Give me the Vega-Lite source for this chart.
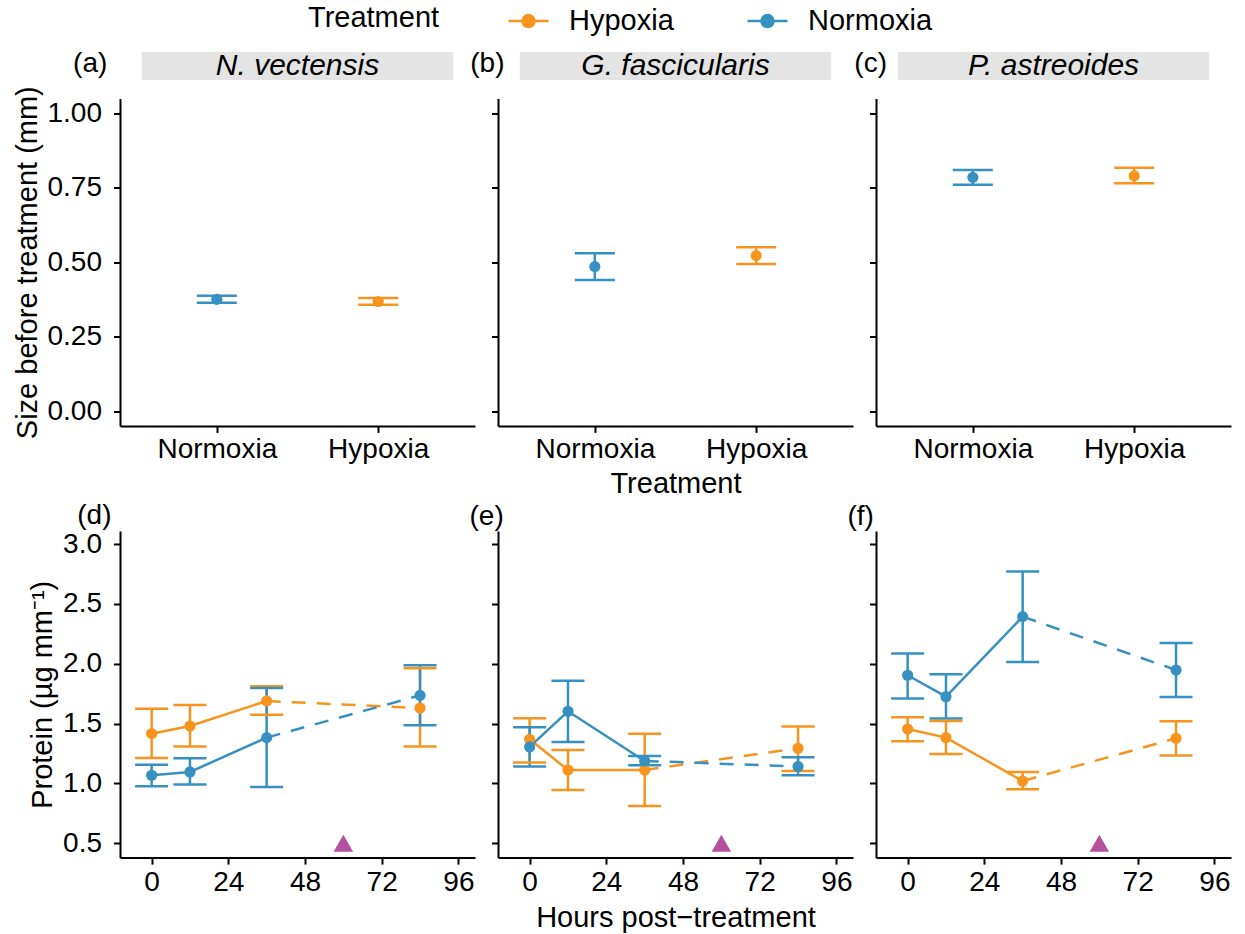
{
  "$schema": "https://vega.github.io/schema/vega-lite/v6.json",
  "padding": {"left": 13, "top": 1, "right": 2, "bottom": 2},
  "columns": 3,
  "align": "each",
  "spacing": {"row": 3.5, "column": -6},
  "resolve": {"scale": {"color": "shared"}},
  "datasets": {
    "strips": [
      {"species": "N. vectensis"},
      {"species": "G. fascicularis"},
      {"species": "P. astreoides"}
    ],
    "size": [
      {"species": "N. vectensis", "treatment": "Hypoxia", "mean": 0.368, "lo": 0.357, "hi": 0.380},
      {"species": "N. vectensis", "treatment": "Normoxia", "mean": 0.375, "lo": 0.364, "hi": 0.387},
      {"species": "G. fascicularis", "treatment": "Hypoxia", "mean": 0.522, "lo": 0.494, "hi": 0.550},
      {"species": "G. fascicularis", "treatment": "Normoxia", "mean": 0.485, "lo": 0.440, "hi": 0.530},
      {"species": "P. astreoides", "treatment": "Hypoxia", "mean": 0.790, "lo": 0.765, "hi": 0.817},
      {"species": "P. astreoides", "treatment": "Normoxia", "mean": 0.785, "lo": 0.760, "hi": 0.810}
    ],
    "protein": [
      {"species": "N. vectensis", "treatment": "Hypoxia", "hours": 0, "mean": 1.416, "lo": 1.213, "hi": 1.625},
      {"species": "N. vectensis", "treatment": "Hypoxia", "hours": 12, "mean": 1.480, "lo": 1.308, "hi": 1.655},
      {"species": "N. vectensis", "treatment": "Hypoxia", "hours": 36, "mean": 1.689, "lo": 1.575, "hi": 1.812},
      {"species": "N. vectensis", "treatment": "Hypoxia", "hours": 84, "mean": 1.630, "lo": 1.308, "hi": 1.962},
      {"species": "G. fascicularis", "treatment": "Hypoxia", "hours": 0, "mean": 1.369, "lo": 1.174, "hi": 1.544},
      {"species": "G. fascicularis", "treatment": "Hypoxia", "hours": 12, "mean": 1.112, "lo": 0.945, "hi": 1.280},
      {"species": "G. fascicularis", "treatment": "Hypoxia", "hours": 36, "mean": 1.112, "lo": 0.812, "hi": 1.416},
      {"species": "G. fascicularis", "treatment": "Hypoxia", "hours": 84, "mean": 1.294, "lo": 1.104, "hi": 1.475},
      {"species": "P. astreoides", "treatment": "Hypoxia", "hours": 0, "mean": 1.455, "lo": 1.352, "hi": 1.553},
      {"species": "P. astreoides", "treatment": "Hypoxia", "hours": 12, "mean": 1.383, "lo": 1.246, "hi": 1.522},
      {"species": "P. astreoides", "treatment": "Hypoxia", "hours": 36, "mean": 1.020, "lo": 0.951, "hi": 1.096},
      {"species": "P. astreoides", "treatment": "Hypoxia", "hours": 84, "mean": 1.377, "lo": 1.233, "hi": 1.519},
      {"species": "N. vectensis", "treatment": "Normoxia", "hours": 0, "mean": 1.068, "lo": 0.976, "hi": 1.157},
      {"species": "N. vectensis", "treatment": "Normoxia", "hours": 12, "mean": 1.096, "lo": 0.990, "hi": 1.210},
      {"species": "N. vectensis", "treatment": "Normoxia", "hours": 36, "mean": 1.383, "lo": 0.970, "hi": 1.797},
      {"species": "N. vectensis", "treatment": "Normoxia", "hours": 84, "mean": 1.736, "lo": 1.486, "hi": 1.987},
      {"species": "G. fascicularis", "treatment": "Normoxia", "hours": 0, "mean": 1.305, "lo": 1.141, "hi": 1.469},
      {"species": "G. fascicularis", "treatment": "Normoxia", "hours": 12, "mean": 1.603, "lo": 1.346, "hi": 1.859},
      {"species": "G. fascicularis", "treatment": "Normoxia", "hours": 36, "mean": 1.188, "lo": 1.152, "hi": 1.229},
      {"species": "G. fascicularis", "treatment": "Normoxia", "hours": 84, "mean": 1.141, "lo": 1.068, "hi": 1.218},
      {"species": "P. astreoides", "treatment": "Normoxia", "hours": 0, "mean": 1.904, "lo": 1.709, "hi": 2.087},
      {"species": "P. astreoides", "treatment": "Normoxia", "hours": 12, "mean": 1.725, "lo": 1.542, "hi": 1.912},
      {"species": "P. astreoides", "treatment": "Normoxia", "hours": 36, "mean": 2.394, "lo": 2.015, "hi": 2.772},
      {"species": "P. astreoides", "treatment": "Normoxia", "hours": 84, "mean": 1.948, "lo": 1.722, "hi": 2.173}
    ],
    "event": [
      {"species": "N. vectensis", "hours": 60, "protein": 0.5},
      {"species": "G. fascicularis", "hours": 60, "protein": 0.5},
      {"species": "P. astreoides", "hours": 60, "protein": 0.5}
    ]
  },
  "concat": [
    {
      "width": 355, "height": 28.1,
      "data": {"name": "strips"},
      "transform": [{"filter": "datum.species === 'N. vectensis'"}],
      "title": {"text": "(a)", "orient": "left", "anchor": "middle", "angle": 0, "align": "left", "baseline": "middle", "offset": 12.7, "dy": -2},
      "encoding": {
        "x": {"field": "species", "type": "nominal", "axis": null, "scale": {"type": "band", "paddingOuter": 0.07, "paddingInner": 0}}
      },
      "layer": [
        {"mark": {"type": "rect", "color": "#e4e4e4"}},
        {"mark": {"type": "text", "fontStyle": "italic", "fontSize": 30, "color": "black"}, "encoding": {"text": {"field": "species"}}}
      ]
    },
    {
      "width": 355, "height": 28.1,
      "data": {"name": "strips"},
      "transform": [{"filter": "datum.species === 'G. fascicularis'"}],
      "title": {"text": "(b)", "orient": "left", "anchor": "middle", "angle": 0, "align": "left", "baseline": "middle", "offset": -6.5, "dy": -2},
      "encoding": {
        "x": {"field": "species", "type": "nominal", "axis": null, "scale": {"type": "band", "paddingOuter": 0.07, "paddingInner": 0}}
      },
      "layer": [
        {"mark": {"type": "rect", "color": "#e4e4e4"}},
        {"mark": {"type": "text", "fontStyle": "italic", "fontSize": 30, "color": "black"}, "encoding": {"text": {"field": "species"}}}
      ]
    },
    {
      "width": 355, "height": 28.1,
      "data": {"name": "strips"},
      "transform": [{"filter": "datum.species === 'P. astreoides'"}],
      "title": {"text": "(c)", "orient": "left", "anchor": "middle", "angle": 0, "align": "left", "baseline": "middle", "offset": -11, "dy": -2},
      "encoding": {
        "x": {"field": "species", "type": "nominal", "axis": null, "scale": {"type": "band", "paddingOuter": 0.07, "paddingInner": 0}}
      },
      "layer": [
        {"mark": {"type": "rect", "color": "#e4e4e4"}},
        {"mark": {"type": "text", "fontStyle": "italic", "fontSize": 30, "color": "black"}, "encoding": {"text": {"field": "species"}}}
      ]
    },
    {
      "width": 355, "height": 327.4,
      "data": {"name": "size"},
      "transform": [{"filter": "datum.species === 'N. vectensis'"}],
      "encoding": {
        "x": {"field": "treatment", "type": "nominal", "sort": ["Normoxia", "Hypoxia"], "scale": {"type": "point", "padding": 0.6}, "axis": {"title": null, "labelAngle": 0, "labelPadding": 3.5, "titlePadding": 5.5}},
        "color": {"field": "treatment", "type": "nominal", "scale": {"domain": ["Hypoxia", "Normoxia"], "range": ["#F7941D", "#3690C0"]}, "legend": {"title": "Treatment", "encode": {"symbols": {"update": {"fill": {"scale": "color", "field": "value"}, "stroke": {"scale": "color", "field": "value"}, "strokeWidth": {"value": 2.5}, "opacity": {"value": 1}}}}}}
      },
      "layer": [
        {"mark": {"type": "rule", "strokeWidth": 2.5}, "encoding": {"y": {"field": "lo", "type": "quantitative", "scale": {"domain": [-0.05, 1.05], "nice": false, "zero": false}, "axis": {"values": [0, 0.25, 0.5, 0.75, 1], "format": ".2f", "title": "Size before treatment (mm)"}}, "y2": {"field": "hi"}}},
        {"mark": {"type": "tick", "orient": "horizontal", "size": 40, "thickness": 2.5, "opacity": 1}, "encoding": {"y": {"field": "lo", "type": "quantitative"}}},
        {"mark": {"type": "tick", "orient": "horizontal", "size": 40, "thickness": 2.5, "opacity": 1}, "encoding": {"y": {"field": "hi", "type": "quantitative"}}},
        {"mark": {"type": "point", "filled": true, "size": 125, "opacity": 1}, "encoding": {"y": {"field": "mean", "type": "quantitative"}}}
      ]
    },
    {
      "width": 355, "height": 327.4,
      "data": {"name": "size"},
      "transform": [{"filter": "datum.species === 'G. fascicularis'"}],
      "encoding": {
        "x": {"field": "treatment", "type": "nominal", "sort": ["Normoxia", "Hypoxia"], "scale": {"type": "point", "padding": 0.6}, "axis": {"title": "Treatment", "labelAngle": 0, "labelPadding": 3.5, "titlePadding": 5.5}},
        "color": {"field": "treatment", "type": "nominal", "scale": {"domain": ["Hypoxia", "Normoxia"], "range": ["#F7941D", "#3690C0"]}, "legend": {"title": "Treatment", "encode": {"symbols": {"update": {"fill": {"scale": "color", "field": "value"}, "stroke": {"scale": "color", "field": "value"}, "strokeWidth": {"value": 2.5}, "opacity": {"value": 1}}}}}}
      },
      "layer": [
        {"mark": {"type": "rule", "strokeWidth": 2.5}, "encoding": {"y": {"field": "lo", "type": "quantitative", "scale": {"domain": [-0.05, 1.05], "nice": false, "zero": false}, "axis": {"values": [0, 0.25, 0.5, 0.75, 1], "labels": false, "title": null}}, "y2": {"field": "hi"}}},
        {"mark": {"type": "tick", "orient": "horizontal", "size": 40, "thickness": 2.5, "opacity": 1}, "encoding": {"y": {"field": "lo", "type": "quantitative"}}},
        {"mark": {"type": "tick", "orient": "horizontal", "size": 40, "thickness": 2.5, "opacity": 1}, "encoding": {"y": {"field": "hi", "type": "quantitative"}}},
        {"mark": {"type": "point", "filled": true, "size": 125, "opacity": 1}, "encoding": {"y": {"field": "mean", "type": "quantitative"}}}
      ]
    },
    {
      "width": 355, "height": 327.4,
      "data": {"name": "size"},
      "transform": [{"filter": "datum.species === 'P. astreoides'"}],
      "encoding": {
        "x": {"field": "treatment", "type": "nominal", "sort": ["Normoxia", "Hypoxia"], "scale": {"type": "point", "padding": 0.6}, "axis": {"title": null, "labelAngle": 0, "labelPadding": 3.5, "titlePadding": 5.5}},
        "color": {"field": "treatment", "type": "nominal", "scale": {"domain": ["Hypoxia", "Normoxia"], "range": ["#F7941D", "#3690C0"]}, "legend": {"title": "Treatment", "encode": {"symbols": {"update": {"fill": {"scale": "color", "field": "value"}, "stroke": {"scale": "color", "field": "value"}, "strokeWidth": {"value": 2.5}, "opacity": {"value": 1}}}}}}
      },
      "layer": [
        {"mark": {"type": "rule", "strokeWidth": 2.5}, "encoding": {"y": {"field": "lo", "type": "quantitative", "scale": {"domain": [-0.05, 1.05], "nice": false, "zero": false}, "axis": {"values": [0, 0.25, 0.5, 0.75, 1], "labels": false, "title": null}}, "y2": {"field": "hi"}}},
        {"mark": {"type": "tick", "orient": "horizontal", "size": 40, "thickness": 2.5, "opacity": 1}, "encoding": {"y": {"field": "lo", "type": "quantitative"}}},
        {"mark": {"type": "tick", "orient": "horizontal", "size": 40, "thickness": 2.5, "opacity": 1}, "encoding": {"y": {"field": "hi", "type": "quantitative"}}},
        {"mark": {"type": "point", "filled": true, "size": 125, "opacity": 1}, "encoding": {"y": {"field": "mean", "type": "quantitative"}}}
      ]
    },
    {
      "width": 355, "height": 326.6,
      "title": {"text": "(d)", "anchor": "start", "frame": "group", "align": "left", "dx": -42.7, "offset": 0},
      "data": {"name": "protein"},
      "transform": [{"filter": "datum.species === 'N. vectensis'"}],
      "encoding": {
        "x": {"field": "hours", "type": "quantitative", "scale": {"domain": [-9.9, 101.2], "nice": false, "zero": false}, "axis": {"values": [0, 24, 48, 72, 96], "title": null}},
        "color": {"field": "treatment", "type": "nominal", "scale": {"domain": ["Hypoxia", "Normoxia"], "range": ["#F7941D", "#3690C0"]}, "legend": {"title": "Treatment", "encode": {"symbols": {"update": {"fill": {"scale": "color", "field": "value"}, "stroke": {"scale": "color", "field": "value"}, "strokeWidth": {"value": 2.5}, "opacity": {"value": 1}}}}}}
      },
      "layer": [
        {"transform": [{"filter": "datum.hours <= 36"}], "mark": {"type": "line", "strokeWidth": 2.5}, "encoding": {"y": {"field": "mean", "type": "quantitative", "scale": {"domain": [0.38, 3.11], "nice": false, "zero": false}, "axis": {"values": [0.5, 1, 1.5, 2, 2.5, 3], "format": ".1f", "title": "Protein (µg mm⁻¹)"}}}},
        {"transform": [{"filter": "datum.hours >= 36"}], "mark": {"type": "line", "strokeWidth": 2.5, "strokeDash": [14, 11]}, "encoding": {"y": {"field": "mean", "type": "quantitative"}}},
        {"mark": {"type": "rule", "strokeWidth": 2.5}, "encoding": {"y": {"field": "lo", "type": "quantitative"}, "y2": {"field": "hi"}}},
        {"mark": {"type": "tick", "orient": "horizontal", "size": 33, "thickness": 2.5, "opacity": 1}, "encoding": {"y": {"field": "lo", "type": "quantitative"}}},
        {"mark": {"type": "tick", "orient": "horizontal", "size": 33, "thickness": 2.5, "opacity": 1}, "encoding": {"y": {"field": "hi", "type": "quantitative"}}},
        {"mark": {"type": "point", "filled": true, "size": 125, "opacity": 1}, "encoding": {"y": {"field": "mean", "type": "quantitative"}}},
        {"data": {"name": "event"}, "transform": [{"filter": "datum.species === 'N. vectensis'"}], "mark": {"type": "point", "shape": "triangle-up", "filled": true, "size": 380, "opacity": 1}, "encoding": {"y": {"field": "protein", "type": "quantitative"}, "color": {"value": "#B4509F"}}}
      ]
    },
    {
      "width": 355, "height": 326.6,
      "title": {"text": "(e)", "anchor": "start", "frame": "group", "align": "left", "dx": -28.5, "offset": 0},
      "data": {"name": "protein"},
      "transform": [{"filter": "datum.species === 'G. fascicularis'"}],
      "encoding": {
        "x": {"field": "hours", "type": "quantitative", "scale": {"domain": [-9.9, 101.2], "nice": false, "zero": false}, "axis": {"values": [0, 24, 48, 72, 96], "title": "Hours post−treatment"}},
        "color": {"field": "treatment", "type": "nominal", "scale": {"domain": ["Hypoxia", "Normoxia"], "range": ["#F7941D", "#3690C0"]}, "legend": {"title": "Treatment", "encode": {"symbols": {"update": {"fill": {"scale": "color", "field": "value"}, "stroke": {"scale": "color", "field": "value"}, "strokeWidth": {"value": 2.5}, "opacity": {"value": 1}}}}}}
      },
      "layer": [
        {"transform": [{"filter": "datum.hours <= 36"}], "mark": {"type": "line", "strokeWidth": 2.5}, "encoding": {"y": {"field": "mean", "type": "quantitative", "scale": {"domain": [0.38, 3.11], "nice": false, "zero": false}, "axis": {"values": [0.5, 1, 1.5, 2, 2.5, 3], "labels": false, "title": null}}}},
        {"transform": [{"filter": "datum.hours >= 36"}], "mark": {"type": "line", "strokeWidth": 2.5, "strokeDash": [14, 11]}, "encoding": {"y": {"field": "mean", "type": "quantitative"}}},
        {"mark": {"type": "rule", "strokeWidth": 2.5}, "encoding": {"y": {"field": "lo", "type": "quantitative"}, "y2": {"field": "hi"}}},
        {"mark": {"type": "tick", "orient": "horizontal", "size": 33, "thickness": 2.5, "opacity": 1}, "encoding": {"y": {"field": "lo", "type": "quantitative"}}},
        {"mark": {"type": "tick", "orient": "horizontal", "size": 33, "thickness": 2.5, "opacity": 1}, "encoding": {"y": {"field": "hi", "type": "quantitative"}}},
        {"mark": {"type": "point", "filled": true, "size": 125, "opacity": 1}, "encoding": {"y": {"field": "mean", "type": "quantitative"}}},
        {"data": {"name": "event"}, "transform": [{"filter": "datum.species === 'G. fascicularis'"}], "mark": {"type": "point", "shape": "triangle-up", "filled": true, "size": 380, "opacity": 1}, "encoding": {"y": {"field": "protein", "type": "quantitative"}, "color": {"value": "#B4509F"}}}
      ]
    },
    {
      "width": 355, "height": 326.6,
      "title": {"text": "(f)", "anchor": "start", "frame": "group", "align": "left", "dx": -28.5, "offset": 0},
      "data": {"name": "protein"},
      "transform": [{"filter": "datum.species === 'P. astreoides'"}],
      "encoding": {
        "x": {"field": "hours", "type": "quantitative", "scale": {"domain": [-9.9, 101.2], "nice": false, "zero": false}, "axis": {"values": [0, 24, 48, 72, 96], "title": null}},
        "color": {"field": "treatment", "type": "nominal", "scale": {"domain": ["Hypoxia", "Normoxia"], "range": ["#F7941D", "#3690C0"]}, "legend": {"title": "Treatment", "encode": {"symbols": {"update": {"fill": {"scale": "color", "field": "value"}, "stroke": {"scale": "color", "field": "value"}, "strokeWidth": {"value": 2.5}, "opacity": {"value": 1}}}}}}
      },
      "layer": [
        {"transform": [{"filter": "datum.hours <= 36"}], "mark": {"type": "line", "strokeWidth": 2.5}, "encoding": {"y": {"field": "mean", "type": "quantitative", "scale": {"domain": [0.38, 3.11], "nice": false, "zero": false}, "axis": {"values": [0.5, 1, 1.5, 2, 2.5, 3], "labels": false, "title": null}}}},
        {"transform": [{"filter": "datum.hours >= 36"}], "mark": {"type": "line", "strokeWidth": 2.5, "strokeDash": [14, 11]}, "encoding": {"y": {"field": "mean", "type": "quantitative"}}},
        {"mark": {"type": "rule", "strokeWidth": 2.5}, "encoding": {"y": {"field": "lo", "type": "quantitative"}, "y2": {"field": "hi"}}},
        {"mark": {"type": "tick", "orient": "horizontal", "size": 33, "thickness": 2.5, "opacity": 1}, "encoding": {"y": {"field": "lo", "type": "quantitative"}}},
        {"mark": {"type": "tick", "orient": "horizontal", "size": 33, "thickness": 2.5, "opacity": 1}, "encoding": {"y": {"field": "hi", "type": "quantitative"}}},
        {"mark": {"type": "point", "filled": true, "size": 125, "opacity": 1}, "encoding": {"y": {"field": "mean", "type": "quantitative"}}},
        {"data": {"name": "event"}, "transform": [{"filter": "datum.species === 'P. astreoides'"}], "mark": {"type": "point", "shape": "triangle-up", "filled": true, "size": 380, "opacity": 1}, "encoding": {"y": {"field": "protein", "type": "quantitative"}, "color": {"value": "#B4509F"}}}
      ]
    }
  ],
  "config": {
    "font": "Liberation Sans",
    "view": {"stroke": null},
    "axis": {"domainColor": "black", "domainWidth": 2, "tickColor": "black", "tickWidth": 2, "tickSize": 6.5, "labelColor": "black", "titleColor": "black", "labelFontSize": 28, "titleFontSize": 29, "titleFontWeight": "normal", "grid": false, "labelFont": "Liberation Sans", "titleFont": "Liberation Sans"},
    "axisX": {"labelPadding": 4, "titlePadding": 7},
    "axisY": {"labelPadding": 12, "titlePadding": 5, "labelFontSize": 28},
    "title": {"fontSize": 28, "fontWeight": "normal", "color": "black", "font": "Liberation Sans"},
    "legend": {
      "orient": "none", "legendX": 188, "legendY": -50.7, "direction": "horizontal", "titleOrient": "left",
      "titleAnchor": "middle", "titleBaseline": "middle",
      "symbolType": "M-1.111,0H1.111M-0.333,0A0.333,0.333,0,1,0,0.333,0A0.333,0.333,0,1,0,-0.333,0",
      "symbolSize": 1296, "symbolStrokeWidth": 2.5, "labelFontSize": 29, "titleFontSize": 29, "titleFontWeight": "normal",
      "labelColor": "black", "titleColor": "black", "labelOffset": 21, "columnPadding": 68, "titlePadding": 69, "padding": 0,
      "labelFont": "Liberation Sans", "titleFont": "Liberation Sans"
    }
  }
}
